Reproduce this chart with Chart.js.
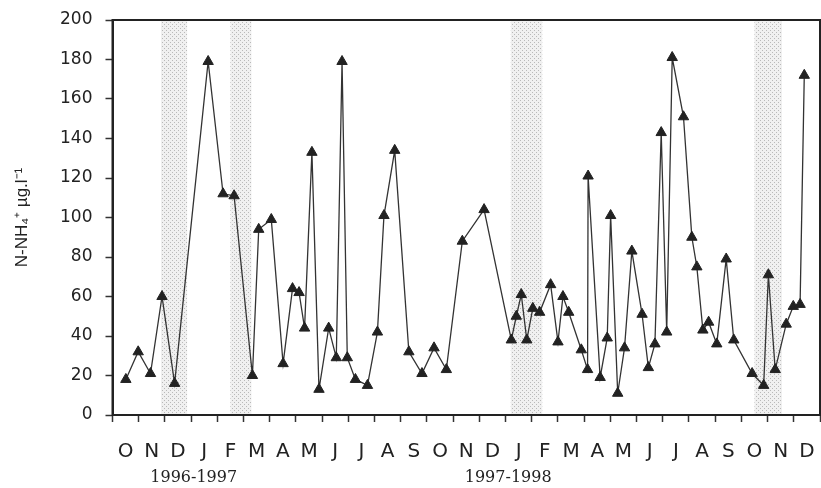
<!DOCTYPE html>
<html>
<head>
<meta charset="utf-8">
<script src="https://cdn.jsdelivr.net/npm/chart.js@4.4.1/dist/chart.umd.min.js"></script>
<style>
  html, body { margin: 0; padding: 0; background: #ffffff; }
  #wrap { width: 821px; height: 488px; }
</style>
</head>
<body>
<div id="wrap"><canvas id="nh4Chart"></canvas></div>
<script>
// ======================================
// Data (x = months since start of Oct 1996)
// ======================================

const samplePos = [
  0.51, 0.98, 1.45, 1.89, 2.37, 3.65, 4.22, 4.64, 5.34, 5.58,
  6.06, 6.51, 6.87, 7.12, 7.33, 7.61, 7.88, 8.25, 8.54, 8.76,
  8.96, 9.27, 9.73, 10.11, 10.36, 10.77, 11.31, 11.81, 12.27, 12.74,
  13.35, 14.18, 15.22, 15.41, 15.60, 15.81, 16.04, 16.30, 16.72, 17.00,
  17.19, 17.41, 17.89, 18.13, 18.15, 18.61, 18.88, 19.01, 19.28, 19.54,
  19.82, 20.21, 20.45, 20.70, 20.94, 21.15, 21.36, 21.79, 22.11, 22.30,
  22.53, 22.75, 23.06, 23.42, 23.71, 24.41, 24.85, 25.03, 25.29, 25.71,
  25.98, 26.24, 26.40
];

const nh4Values = [
  18, 32, 21, 60, 16, 179, 112, 111, 20, 94,
  99, 26, 64, 62, 44, 133, 13, 44, 29, 179,
  29, 18, 15, 42, 101, 134, 32, 21, 34, 23,
  88, 104, 38, 50, 61, 38, 54, 52, 66, 37,
  60, 52, 33, 23, 121, 19, 39, 101, 11, 34,
  83, 51, 24, 36, 143, 42, 181, 151, 90, 75,
  43, 47, 36, 79, 38, 21, 15, 71, 23, 46,
  55, 56, 172
];

const monthLabels = [
  "O", "N", "D", "J", "F", "M", "A", "M", "J", "J", "A", "S",
  "O", "N", "D", "J", "F", "M", "A", "M", "J", "J", "A", "S",
  "O", "N", "D"
];

const yearLabels = ["1996-1997", "1997-1998"];
const yearPos = [3.1, 15.1];

// shaded periods (month units)
const bandStarts = [1.85, 4.5, 15.2, 24.5];
const bandEnds = [2.85, 5.3, 16.4, 25.55];

const yTicks = [0, 20, 40, 60, 80, 100, 120, 140, 160, 180, 200];


// ======================================
// Stippled fill for the shaded periods
// ======================================

function makeStipple() {
  const c = document.createElement("canvas");
  c.width = 4;
  c.height = 4;
  const g = c.getContext("2d");
  g.fillStyle = "#f0f0f0";
  g.fillRect(0, 0, 4, 4);
  g.fillStyle = "#b9b9b9";
  g.fillRect(0, 0, 1, 1);
  g.fillRect(2, 2, 1, 1);
  return c;
}

const bandPlugin = {
  id: "bands",
  beforeDatasetsDraw(chart) {
    const { ctx, chartArea, scales } = chart;
    ctx.save();
    ctx.fillStyle = ctx.createPattern(makeStipple(), "repeat");

    bandStarts.forEach((start, i) => {
      const left = scales.x.getPixelForValue(start);
      const right = scales.x.getPixelForValue(bandEnds[i]);
      ctx.fillRect(left, chartArea.top, right - left, chartArea.bottom - chartArea.top);
    });

    // frame around the plot
    ctx.strokeStyle = "#222222";
    ctx.lineWidth = 2;
    ctx.strokeRect(chartArea.left, chartArea.top, chartArea.right - chartArea.left, chartArea.bottom - chartArea.top);
    ctx.restore();
  }
};


// ======================================
// Chart
// ======================================

const points = samplePos.map((x, i) => ({ x: x, y: nh4Values[i] }));

const monthTicks = [];
for (let i = 0; i <= monthLabels.length; i++) {
  monthTicks.push(i);
  if (i < monthLabels.length) {
    monthTicks.push(i + 0.5);
  }
}

new Chart(document.getElementById("nh4Chart"), {
  type: "line",
  data: {
    datasets: [
      {
        data: points,
        borderColor: "#333333",
        borderWidth: 1.3,
        pointStyle: "triangle",
        pointRadius: 6,
        pointBackgroundColor: "#222222",
        pointBorderColor: "#222222",
        pointBorderWidth: 1,
        tension: 0,
        fill: false,
        clip: false
      }
    ]
  },
  plugins: [bandPlugin],
  options: {
    animation: false,
    responsive: true,
    maintainAspectRatio: false,
    layout: {
      autoPadding: false,
      padding: { top: 20, right: 1, bottom: 0, left: 0 }
    },
    plugins: {
      legend: { display: false },
      tooltip: { enabled: false }
    },
    scales: {
      x: {
        type: "linear",
        position: "bottom",
        min: 0,
        max: monthLabels.length,
        afterBuildTicks: (axis) => {
          axis.ticks = monthTicks.map((v) => ({ value: v }));
        },
        afterFit: (axis) => {
          axis.height = 49;
          axis.paddingLeft = 0;
          axis.paddingRight = 0;
        },
        border: { color: "#222222", width: 2 },
        grid: {
          drawOnChartArea: false,
          tickLength: 7,
          tickWidth: 1.5,
          tickColor: (ctx) => {
            return Number.isInteger(ctx.tick.value) ? "#333333" : "rgba(0,0,0,0)";
          }
        },
        ticks: {
          autoSkip: false,
          maxRotation: 0,
          padding: 18,
          color: "#222222",
          font: { family: "DejaVu Sans", size: 20 },
          callback: (value) => {
            if (Number.isInteger(value)) {
              return "";
            }
            return monthLabels[Math.floor(value)];
          }
        }
      },
      years: {
        type: "linear",
        position: "bottom",
        min: 0,
        max: monthLabels.length,
        afterBuildTicks: (axis) => {
          axis.ticks = yearPos.map((v) => ({ value: v }));
        },
        afterFit: (axis) => {
          axis.height = 24;
          axis.paddingLeft = 0;
          axis.paddingRight = 0;
        },
        border: { display: false },
        grid: { display: false, drawTicks: false },
        ticks: {
          autoSkip: false,
          maxRotation: 0,
          padding: 4,
          color: "#222222",
          font: { family: "DejaVu Serif", size: 16 },
          callback: (value) => {
            return yearLabels[yearPos.indexOf(value)];
          }
        }
      },
      y: {
        min: 0,
        max: 200,
        afterBuildTicks: (axis) => {
          axis.ticks = yTicks.map((v) => ({ value: v }));
        },
        afterFit: (axis) => {
          axis.width = 112.5;
          axis.paddingTop = 0;
          axis.paddingBottom = 0;
        },
        border: { color: "#222222", width: 2 },
        grid: {
          drawOnChartArea: false,
          tickLength: 7,
          tickWidth: 1.5,
          tickColor: "#333333"
        },
        ticks: {
          padding: 13,
          color: "#222222",
          font: { family: "DejaVu Sans", size: 17 }
        },
        title: {
          display: true,
          text: "N-NH\u2084\u207A \u00B5g.l\u207B\u00B9",
          color: "#222222",
          padding: { top: 12, bottom: 0 },
          font: { family: "Liberation Sans", size: 17 }
        }
      }
    }
  }
});
</script>
</body>
</html>
